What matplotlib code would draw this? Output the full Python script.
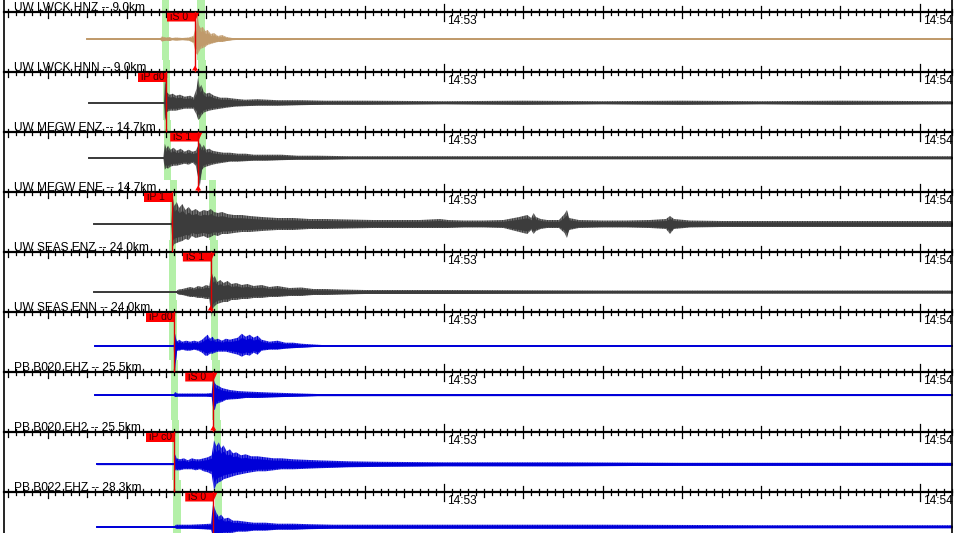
"""
Seismogram panel view: nine channels, with picks and tick marks on a shared time axis.
Times are in seconds after 14:53:00, amplitudes are in screen pixels.
"""

import matplotlib.pyplot as plt
from matplotlib.patches import Polygon, Rectangle

# channel labels, shown over each time bar
channel_labels = [
    "UW LWCK HNZ -- 9.0km",
    "UW LWCK HNN -- 9.0km",
    "UW MEGW ENZ -- 14.7km",
    "UW MEGW ENE -- 14.7km",
    "UW SEAS ENZ -- 24.0km",
    "UW SEAS ENN -- 24.0km",
    "PB B020 EHZ -- 25.5km",
    "PB B020 EH2 -- 25.5km",
    "PB B022 EHZ -- 28.3km",
]

# trace DC offsets below each time bar (px)
trace_offsets = [27, 30.7, 25.7, 32, 40, 33.7, 23, 32.3, 34.7]
trace_colors = ["#C09A6B", "#3C3C3C", "#3C3C3C", "#3C3C3C", "#3C3C3C",
                "#0000D8", "#0000D8", "#0000D8", "#0000D8"]

# picks: phase label, pick time (s)
pick_labels = ["iS 0", "iP d0", "iS 1", "iP 1", "iS 1", "iP d0", "iS 0", "iP c0", "iS 0"]
pick_times = [-31.4, -35.1, -31.0, -34.3, -29.4, -34.0, -29.1, -34.0, -29.1]

# predicted P and S windows (centre times, s)
p_window = [-35.12, -34.99, -34.87, -34.11, -34.24, -34.17, -33.98, -33.86, -33.67]
s_window = [-30.64, -30.52, -30.45, -29.19, -29.00, -28.94, -28.75, -28.56, -28.44]

# waveform envelopes: time (s), upper and lower amplitude (px)
env_t = [
    [-45.0, -35.8, -35.6, -35.3, -35.0, -34.6, -34.3, -33.8, -33.0, -32.2,
     -31.6, -31.3, -31.1, -30.9, -30.7, -30.4, -30.1, -29.8, -29.4, -29.0,
     -28.5, -28.0, -27.4, -26.7, -26.0, 64.1],
    [-44.8, -35.3, -35.2, -35.1, -34.9, -34.6, -34.2, -33.8, -33.3, -32.7,
     -32.0, -31.6, -31.2, -31.0, -30.8, -30.6, -30.3, -30.0, -29.6, -29.0,
     -28.2, -27.4, -26.4, -25.1, -23.5, -21.0, -18.0, -15.0, -10.0, 0.0,
     10.0, 20.0, 30.0, 40.0, 50.0, 64.1],
    [-44.8, -35.4, -35.2, -35.0, -34.8, -34.5, -34.1, -33.7, -33.2, -32.7,
     -32.2, -31.7, -31.3, -31.0, -30.8, -30.5, -30.3, -30.0, -29.6, -29.2,
     -28.6, -27.8, -27.0, -26.0, -25.0, -24.0, -22.5, -20.5, -18.5, -16.0,
     -12.0, 0.0, 20.0, 40.0, 64.1],
    [-44.1, -34.4, -34.2, -34.0, -33.7, -33.4, -33.0, -32.6, -32.2, -31.8,
     -31.3, -30.8, -30.3, -29.8, -29.4, -29.0, -28.5, -28.0, -27.3, -26.5,
     -25.5, -24.5, -23.0, -21.0, -19.0, -17.0, -15.0, -12.0, -9.0, -6.0,
     -3.0, -0.5, 0.5, 2.5, 5.0, 7.5, 9.5, 10.5, 11.0, 11.3,
     11.6, 12.2, 13.0, 14.5, 15.2, 15.5, 15.8, 17.0, 20.0, 23.0,
     26.0, 28.0, 28.5, 29.0, 31.0, 35.0, 40.0, 50.0, 64.1],
    [-44.1, -33.8, -33.5, -33.0, -32.5, -32.0, -31.5, -31.0, -30.5, -30.0,
     -29.6, -29.3, -29.1, -28.9, -28.6, -28.2, -27.8, -27.3, -26.8, -26.2,
     -25.5, -24.8, -24.0, -23.0, -22.0, -21.0, -19.5, -18.0, -16.5, -15.0,
     -13.0, -10.0, 0.0, 20.0, 40.0, 64.1],
    [-44.0, -34.1, -33.9, -33.7, -33.4, -33.0, -32.5, -32.0, -31.5, -31.0,
     -30.5, -30.1, -29.8, -29.5, -29.2, -28.9, -28.5, -28.0, -27.5, -27.0,
     -26.5, -26.0, -25.5, -25.0, -24.5, -24.0, -23.5, -23.0, -22.0, -21.0,
     -20.0, -19.0, -18.0, -17.0, -16.0, -15.0, 64.1],
    [-44.0, -34.1, -33.9, -33.6, -32.0, -30.0, -29.3, -29.1, -28.9, -28.7,
     -28.4, -28.0, -27.5, -27.0, -26.0, -25.0, -23.5, -22.0, -20.0, -18.0,
     -16.0, 64.1],
    [-43.8, -34.0, -33.9, -33.7, -33.3, -32.8, -32.3, -31.8, -31.3, -30.8,
     -30.3, -29.8, -29.3, -29.0, -28.7, -28.4, -28.1, -27.8, -27.4, -27.0,
     -26.6, -26.2, -25.6, -25.0, -24.3, -23.5, -22.5, -21.5, -20.5, -19.0,
     -17.5, -16.0, -14.0, -12.0, -8.0, 0.0, 15.0, 30.0, 45.0, 64.1],
    [-43.8, -34.0, -33.8, -33.5, -32.0, -30.5, -29.4, -29.1, -28.9, -28.7,
     -28.4, -28.1, -27.7, -27.2, -26.6, -26.0, -25.0, -24.0, -22.5, -21.0,
     -19.0, -17.0, -14.0, 0.0, 20.0, 40.0, 64.1],
]
env_up = [
    [0.5, 0.5, 2.5, 2, 1.5, 2, 1, 1.5, 1, 1.5,
     3, 12, 28, 14, 11, 12, 8, 9, 5, 6,
     3, 4, 2, 1, 0.5, 0.5],
    [0.5, 0.5, 24, 20, 10, 8, 9, 7, 8, 6,
     7, 5, 14, 26, 15, 18, 11, 9, 10, 7,
     5, 5, 4, 3, 3.5, 2.5, 2.5, 2, 2, 1.5,
     2, 1.5, 2, 1.5, 2, 1.5],
    [0.5, 0.5, 14, 9, 12, 8, 10, 7, 9, 6,
     8, 6, 7, 12, 15, 10, 13, 8, 9, 7,
     6, 5, 5, 4, 4, 3, 3, 3, 2, 2,
     1.5, 1.5, 1.5, 1.5, 1.5],
    [0.5, 0.5, 27, 18, 22, 16, 20, 14, 17, 13,
     15, 12, 14, 13, 15, 12, 11, 12, 10, 9,
     9, 8, 7, 6, 6, 5, 5, 4.5, 4, 4,
     4, 5, 4, 3.5, 3.5, 4, 7, 9, 6, 11,
     7, 5, 4, 4, 10, 14, 6, 4, 3.5, 3.5,
     4, 5, 8, 5, 3.5, 3, 3, 3, 3],
    [0.5, 0.5, 2.5, 3, 4, 5, 4, 6, 5, 7,
     6, 20, 14, 16, 10, 12, 9, 11, 8, 9,
     7, 8, 6, 7, 5, 6, 4, 4.5, 3, 3,
     2.5, 2, 2, 1.5, 1.5, 1.5],
    [0.5, 0.5, 12, 4, 6, 4, 5, 4, 5, 4,
     6, 9, 11, 7, 9, 6, 7, 5, 7, 6,
     7, 8, 12, 9, 11, 8, 10, 6, 4, 5,
     3, 3, 2, 1.5, 1, 0.5, 0.5],
    [0.5, 0.5, 3, 1.5, 1.5, 1.5, 2, 17, 12, 10,
     9, 7, 6, 5, 4, 3.5, 3, 2.5, 2, 1.5,
     1, 0.8],
    [0.5, 0.5, 10, 6, 5, 6, 4, 6, 5, 5,
     6, 7, 9, 24, 18, 22, 16, 19, 13, 15,
     11, 12, 9, 10, 8, 8, 7, 6, 6, 5,
     4.5, 4, 3.5, 3, 2.5, 2, 2, 1.5, 1.5, 1.5],
    [0.5, 0.5, 2, 2, 2, 2.5, 3, 24, 18, 14,
     10, 12, 8, 9, 6, 6, 5, 4, 4, 3,
     3, 2.5, 2, 2, 2, 1.5, 1.5],
]
env_dn = [
    [0.5, 0.5, 2.5, 2, 1.5, 2, 1, 1.5, 1, 1.5,
     4, 14, 16, 13, 10, 9, 8, 6, 5, 4,
     3, 3, 2, 1, 0.5, 0.5],
    [0.5, 0.5, 18, 16, 9, 8, 8, 8, 7, 6,
     6, 6, 12, 17, 16, 13, 10, 9, 8, 7,
     6, 5, 4, 3.5, 3, 3, 2.5, 2, 2, 1.5,
     2, 1.5, 2, 1.5, 2, 1.5],
    [0.5, 0.5, 12, 10, 11, 9, 8, 8, 7, 6,
     7, 5, 8, 20, 29, 12, 10, 9, 8, 7,
     6, 5, 4, 4, 3.5, 3, 3, 2.5, 2, 2,
     1.5, 1.5, 1.5, 1.5, 1.5],
    [0.5, 0.5, 23, 20, 19, 18, 17, 15, 16, 12,
     14, 13, 12, 14, 13, 11, 12, 10, 10, 9,
     8, 8, 7, 6, 6, 5, 5, 4.5, 4, 4,
     4, 4, 4, 3.5, 3.5, 4, 8, 10, 6, 10,
     7, 5, 4, 4, 9, 14, 6, 4, 3.5, 3.5,
     4, 5, 10, 5, 3.5, 3, 3, 3, 3],
    [0.5, 0.5, 2.5, 3, 4, 5, 5, 6, 6, 7,
     7, 25, 16, 14, 12, 11, 10, 10, 8, 8,
     7, 7, 6, 6, 5, 5, 4, 4, 3, 3,
     2.5, 2, 2, 1.5, 1.5, 1.5],
    [0.5, 0.5, 25, 5, 5, 4, 5, 5, 4, 5,
     7, 10, 10, 8, 8, 7, 6, 6, 6, 7,
     8, 9, 11, 9, 10, 7, 9, 5, 4, 4,
     3, 2.5, 2, 1.5, 1, 0.5, 0.5],
    [0.5, 0.5, 2, 1.5, 1.5, 1.5, 2, 14, 15, 9,
     8, 7, 5, 4.5, 4, 3, 3, 2.5, 2, 1.5,
     1, 0.8],
    [0.5, 0.5, 6, 6, 6, 5, 5, 5, 6, 5,
     7, 8, 10, 26, 20, 18, 17, 15, 14, 13,
     12, 11, 10, 9, 8, 7, 7, 6, 5, 5,
     4.5, 4, 3.5, 3, 2.5, 2, 2, 1.5, 1.5, 1.5],
    [0.5, 0.5, 2, 2, 2, 2.5, 3, 10, 10, 9,
     8, 8, 7, 7, 6, 5, 5, 4, 4, 3,
     3, 2.5, 2, 2, 2, 1.5, 1.5],
]

minute_labels = {0: "14:53", 60: "14:54"}

# screen layout
WIDTH, HEIGHT = 962, 533
PX_PER_S = 7.93
T0_PX = 444            # x pixel of 14:53:00
ROW_H = 60
BAR_Y0 = 12
LEFT_T, RIGHT_T = -55.5, 64.06

plt.rcParams["hatch.linewidth"] = 1.0


def px(dx):
    return dx / PX_PER_S


def main():
    fig = plt.figure(figsize=(WIDTH / 100, HEIGHT / 100), dpi=100)
    ax = fig.add_axes([0, 0, 1, 1])
    ax.set_xlim(px(-T0_PX), px(WIDTH - T0_PX))
    ax.set_ylim(HEIGHT, 0)
    ax.axis("off")

    for i, label in enumerate(channel_labels):
        bar_y = BAR_Y0 + i * ROW_H
        row_top = bar_y - 12
        color = trace_colors[i]

        # predicted phase windows
        for tc in (p_window[i], s_window[i]):
            ax.add_patch(Rectangle((tc - px(3.8), row_top), px(7.6), ROW_H,
                                   facecolor="#B4F0A8", edgecolor="none", zorder=1))

        # waveform: dense strokes out to the envelope, solid core inside
        base = bar_y + trace_offsets[i]
        t = env_t[i]
        up = [base - a for a in env_up[i]]
        dn = [base + a for a in env_dn[i]]
        ax.fill_between(t, up, dn, facecolor="none", edgecolor=color, hatch="|" * 10,
                        linewidth=0, zorder=2)
        core_up = [base - 0.7 * a for a in env_up[i]]
        core_dn = [base + 0.7 * a for a in env_dn[i]]
        ax.fill_between(t, core_up, core_dn, color=color, linewidth=0, zorder=2)
        ax.plot([t[0], t[-1]], [base, base], color=color, lw=1.4, zorder=2)

        # time bar and ticks
        ax.plot([LEFT_T, RIGHT_T], [bar_y, bar_y], color="black", lw=1.6, zorder=3)
        for s in range(-55, 65):
            if s % 60 == 0:
                a, b = 8.5, 8.5
            elif s % 10 == 0:
                a, b = 6, 6
            elif s % 5 == 0:
                a, b = 3, 5
            else:
                a, b = 3, 3
            ax.plot([s, s], [bar_y - a, bar_y + b], color="black", lw=0.9, zorder=3)
            if s in minute_labels:
                ax.text(s + px(3.5), bar_y + 2.5, minute_labels[s], fontsize=8.6,
                        family="Liberation Sans", ha="left", va="top", zorder=3)

        ax.text(px(14 - T0_PX), bar_y - 0.8, label, fontsize=8.6, family="Liberation Sans",
                ha="left", va="baseline", zorder=3)

        # pick flag and line
        tp = pick_times[i]
        is_s = pick_labels[i].startswith("iS")
        x0 = tp - px(28)
        top, bot = bar_y + 0.8, bar_y + 9.5
        tip = px(4) if is_s else 0
        ax.add_patch(Polygon([(x0, top), (tp + tip, top), (tp, bot), (x0, bot)],
                             closed=True, facecolor="#FF0000", edgecolor="none", zorder=4))
        ax.text(x0 + px(3), (top + bot) / 2 + 0.3, pick_labels[i], fontsize=7.6,
                family="Liberation Sans", color="#3A0000", ha="left", va="center", zorder=5)
        ax.plot([tp, tp], [bar_y, bar_y + ROW_H - 1.5], color="#E00000", lw=1.0, zorder=4)
        if is_s:
            ax.add_patch(Polygon([(tp - px(3), bar_y + ROW_H - 1.5),
                                  (tp + px(3), bar_y + ROW_H - 1.5),
                                  (tp, bar_y + ROW_H - 6.5)],
                                 closed=True, facecolor="#FF0000", edgecolor="none", zorder=4))

    # frame edges
    ax.plot([LEFT_T, LEFT_T], [0, HEIGHT], color="black", lw=1.2, zorder=3)
    ax.plot([RIGHT_T, RIGHT_T], [0, HEIGHT], color="black", lw=1.2, zorder=3)

    fig.savefig("out.png", dpi=100)
    plt.close(fig)


if __name__ == "__main__":
    main()
